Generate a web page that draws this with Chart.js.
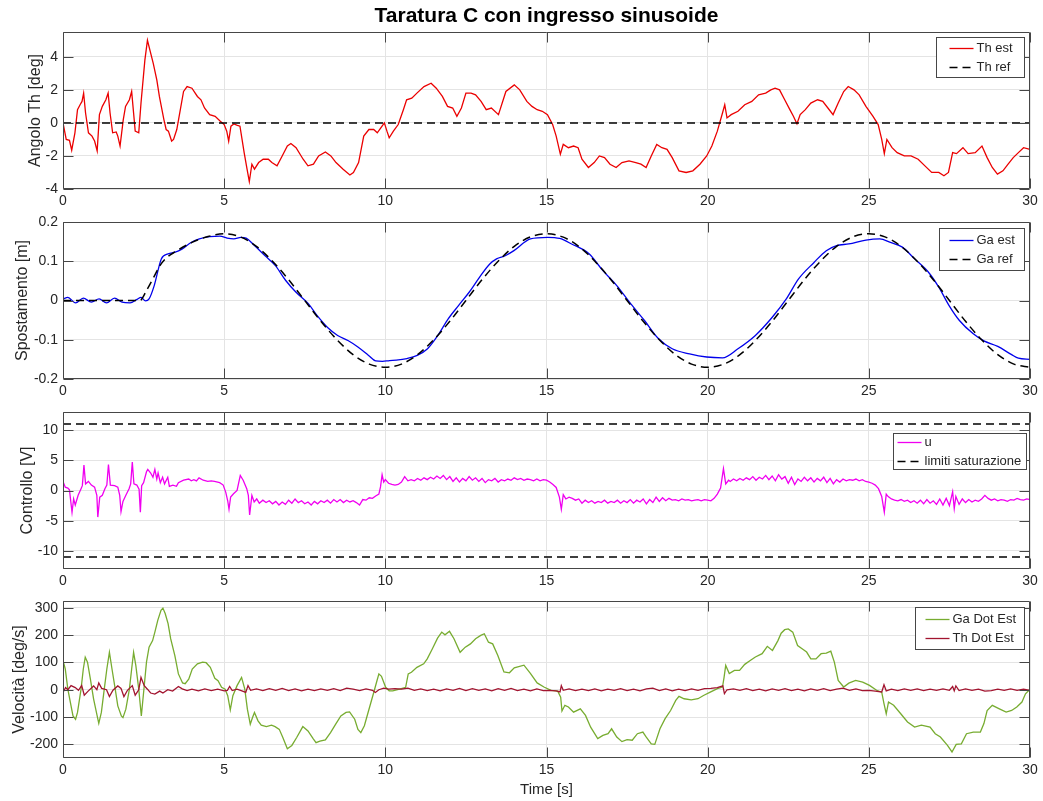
<!DOCTYPE html>
<html>
<head>
<meta charset="utf-8">
<title>Taratura C con ingresso sinusoide</title>
<script src="https://cdn.jsdelivr.net/npm/chart.js@4.4.1/dist/chart.umd.min.js"></script>
<style>
  html, body { margin: 0; padding: 0; background: #fff; }
  #figure { position: relative; width: 1043px; height: 801px; overflow: hidden; }
  #figure canvas { position: absolute; left: 0; }
</style>
</head>
<body>
<div id="figure">
  <canvas id="thChart" width="1043" height="214" style="top:0px"></canvas>
  <canvas id="gaChart" width="1043" height="196" style="top:208px"></canvas>
  <canvas id="uChart" width="1043" height="196" style="top:398px"></canvas>
  <canvas id="velChart" width="1043" height="214" style="top:587px"></canvas>
</div>
<script>
// Time axis and tick labels
const timeTicks = [0, 5, 10, 15, 20, 25, 30];
const thTicks = [-4, -2, 0, 2, 4];
const gaTicks = [-0.2, -0.1, 0, 0.1, 0.2];
const uTicks = [-10, -5, 0, 5, 10];
const velTicks = [-200, -100, 0, 100, 200, 300];

// Angle estimate [deg], pairs of [time s, value]
const thEst = [
  [0,0],[0.1,-1.0],[0.2,-1.05],[0.27,-1.65],[0.37,-0.6],[0.45,0.8],[0.53,1.1],[0.59,1.3],[0.64,1.8],
  [0.7,0.6],[0.79,-0.6],[0.9,-0.8],[0.98,-1.1],[1.06,-1.7],[1.13,0.5],[1.22,1.0],[1.33,1.4],[1.4,1.8],
  [1.46,0.6],[1.54,-0.6],[1.65,-0.55],[1.7,-0.8],[1.77,-1.4],[1.87,0.2],[1.94,1.0],[2.06,1.4],[2.13,1.9],
  [2.19,0.6],[2.24,-0.5],[2.35,-0.6],[2.42,1.2],[2.54,3.8],[2.62,5.0],[2.71,4.3],[2.8,3.6],[2.91,2.6],
  [2.99,1.6],[3.13,0.2],[3.2,-0.4],[3.27,-0.5],[3.37,-1.1],[3.43,-1.0],[3.53,-0.4],[3.64,0.8],[3.74,1.9],
  [3.85,2.2],[4.0,2.1],[4.17,1.6],[4.28,1.4],[4.39,0.9],[4.55,0.5],[4.72,0.4],[4.88,0.1],[5.0,-0.1],
  [5.08,-0.5],[5.14,-1.1],[5.21,-0.2],[5.3,-0.06],[5.41,-0.15],[5.49,-0.2],[5.62,-1.8],[5.71,-2.8],
  [5.78,-3.55],[5.86,-2.5],[5.94,-2.8],[6.07,-2.4],[6.21,-2.2],[6.37,-2.2],[6.48,-2.4],[6.64,-2.6],
  [6.8,-2.0],[6.96,-1.4],[7.07,-1.25],[7.23,-1.5],[7.45,-2.2],[7.6,-2.6],[7.77,-2.5],[7.93,-2.0],
  [8.14,-1.76],[8.31,-2.0],[8.47,-2.4],[8.69,-2.8],[8.9,-3.15],[9.01,-3.0],[9.17,-2.4],[9.33,-0.8],
  [9.49,-0.4],[9.64,-0.4],[9.75,-0.6],[9.86,-0.3],[9.97,0],[10.05,-0.5],[10.12,-0.9],[10.25,-0.5],
  [10.4,-0.1],[10.56,0.8],[10.66,1.4],[10.82,1.5],[10.98,1.8],[11.2,2.2],[11.42,2.4],[11.58,2.1],
  [11.77,1.6],[11.93,1.0],[12.09,0.9],[12.22,0.4],[12.36,0.9],[12.5,1.8],[12.66,1.8],[12.8,1.7],
  [12.97,1.3],[13.13,0.8],[13.29,0.9],[13.51,0.5],[13.74,1.9],[14.0,2.3],[14.17,2.0],[14.39,1.3],
  [14.55,1.0],[14.71,0.8],[14.87,0.7],[15.03,0.5],[15.19,-0.1],[15.3,-0.8],[15.43,-1.9],[15.52,-1.3],
  [15.68,-1.5],[15.84,-1.4],[15.98,-1.5],[16.1,-2.2],[16.3,-2.7],[16.48,-2.4],[16.64,-2.0],[16.8,-2.1],
  [16.97,-2.5],[17.16,-2.7],[17.34,-2.4],[17.56,-2.3],[17.77,-2.4],[17.93,-2.5],[18.09,-2.7],[18.25,-2.0],
  [18.42,-1.3],[18.58,-1.5],[18.74,-1.6],[18.9,-2.1],[19.11,-2.9],[19.33,-3.0],[19.54,-2.9],[19.76,-2.5],
  [19.97,-2.0],[20.13,-1.4],[20.3,-0.5],[20.46,0.6],[20.53,1.1],[20.6,0.3],[20.73,0.5],[20.94,0.7],
  [21.15,1.1],[21.37,1.3],[21.58,1.7],[21.8,1.8],[21.96,2.0],[22.09,2.1],[22.23,2.0],[22.39,1.4],
  [22.55,0.8],[22.66,0.4],[22.77,-0.05],[22.87,0.5],[23.03,0.8],[23.2,1.2],[23.41,1.4],[23.57,1.3],
  [23.73,0.9],[23.89,0.5],[24.05,1.2],[24.22,1.9],[24.36,2.2],[24.54,2.0],[24.7,1.7],[24.91,1.0],
  [25.13,0.4],[25.29,-0.1],[25.4,-1.0],[25.48,-1.86],[25.56,-1.0],[25.72,-1.5],[25.88,-1.8],[26.1,-2.0],
  [26.31,-2.0],[26.53,-2.2],[26.74,-2.6],[26.95,-3.0],[27.17,-3.0],[27.33,-3.2],[27.47,-3.0],[27.6,-1.8],
  [27.72,-1.86],[27.92,-1.5],[28.08,-1.86],[28.3,-1.8],[28.51,-1.4],[28.67,-2.1],[28.83,-2.7],[28.99,-3.1],
  [29.16,-2.9],[29.32,-2.5],[29.48,-2.1],[29.64,-1.8],[29.8,-1.5],[30,-1.6]
];
const thRef = [[0,0],[30,0]];

// Cart position [m]
const gaEst = [
  [0,0.004],[0.15,0.008],[0.39,-0.006],[0.63,0.006],[0.88,-0.004],[1.12,0.004],[1.35,-0.006],[1.6,0.006],
  [1.83,-0.004],[2.08,-0.006],[2.3,0.003],[2.42,0.008],[2.56,-0.001],[2.67,0.004],[2.83,0.038],[3.05,0.106],
  [3.26,0.119],[3.48,0.123],[3.69,0.131],[3.96,0.147],[4.23,0.157],[4.55,0.163],[4.87,0.164],[5.09,0.159],
  [5.3,0.157],[5.52,0.161],[5.68,0.159],[5.94,0.14],[6.27,0.114],[6.59,0.089],[6.91,0.051],[7.23,0.021],
  [7.61,-0.008],[7.88,-0.038],[8.2,-0.068],[8.52,-0.089],[8.84,-0.102],[9.16,-0.119],[9.48,-0.14],[9.7,-0.154],
  [9.91,-0.155],[10.13,-0.153],[10.34,-0.152],[10.67,-0.148],[10.99,-0.14],[11.31,-0.123],[11.63,-0.089],
  [11.95,-0.047],[12.27,-0.013],[12.6,0.021],[12.92,0.059],[13.24,0.093],[13.45,0.106],[13.72,0.114],
  [13.99,0.127],[14.5,0.157],[15.03,0.161],[15.41,0.158],[15.78,0.144],[16.32,0.119],[16.75,0.076],
  [17.18,0.038],[17.61,-0.008],[18.04,-0.051],[18.47,-0.097],[18.9,-0.123],[19.44,-0.136],[19.97,-0.144],
  [20.46,-0.146],[20.94,-0.123],[21.48,-0.089],[22.01,-0.042],[22.44,0.004],[22.82,0.055],[23.3,0.097],
  [23.68,0.127],[24.0,0.14],[24.38,0.144],[24.91,0.154],[25.34,0.157],[25.67,0.148],[26.04,0.136],
  [26.42,0.106],[26.85,0.072],[27.17,0.034],[27.49,-0.013],[27.81,-0.051],[28.24,-0.085],[28.57,-0.103],
  [29.0,-0.117],[29.43,-0.138],[29.64,-0.147],[30,-0.15]
];
const gaRef = [
  [0,0],[2.38,0],[2.6,0.027],[2.8,0.057],[3.0,0.088],[3.2,0.108],[3.5,0.125],[4,0.148],[4.5,0.163],
  [5,0.17],[5.5,0.162],[6,0.138],[6.5,0.1],
  [7,0.053],[7.5,0],[8,-0.053],[8.5,-0.1],[9,-0.138],[9.5,-0.162],[10,-0.17],[10.5,-0.162],[11,-0.138],
  [11.5,-0.1],[12,-0.053],[12.5,0],[13,0.053],[13.5,0.1],[14,0.138],[14.5,0.162],[15,0.17],[15.5,0.162],
  [16,0.138],[16.5,0.1],[17,0.053],[17.5,0],[18,-0.053],[18.5,-0.1],[19,-0.138],[19.5,-0.162],[20,-0.17],
  [20.5,-0.162],[21,-0.138],[21.5,-0.1],[22,-0.053],[22.5,0],[23,0.053],[23.5,0.1],[24,0.138],[24.5,0.162],
  [25,0.17],[25.5,0.162],[26,0.138],[26.5,0.1],[27,0.053],[27.5,0],[28,-0.053],[28.5,-0.1],[29,-0.138],
  [29.5,-0.162],[30,-0.17]
];

// Control voltage [V]
const uCtrl = [
  [0,1.5],[0.07,0.55],[0.15,0.4],[0.2,0.1],[0.28,-3.6],[0.33,-1.4],[0.38,-2.4],[0.47,-0.8],[0.56,0.3],
  [0.6,0.8],[0.65,4.2],[0.7,1.1],[0.79,1.5],[0.88,0.9],[0.98,0.55],[1.05,-0.8],[1.08,-4.4],[1.14,-1.1],
  [1.22,-0.8],[1.3,0.3],[1.36,0.9],[1.41,4.3],[1.47,0.9],[1.6,0.8],[1.7,0.55],[1.76,-0.8],[1.8,-3.5],
  [1.86,-1.8],[1.95,-0.8],[2.05,0.3],[2.1,1.1],[2.15,4.7],[2.2,1.1],[2.29,0.9],[2.36,0.2],[2.4,-3.6],
  [2.44,0.8],[2.5,1.3],[2.59,3.1],[2.63,3.5],[2.72,2.9],[2.79,2.2],[2.85,3.5],[2.91,1.9],[2.95,2.9],
  [3.02,1.3],[3.09,2.2],[3.15,1.1],[3.25,2.2],[3.3,0.7],[3.41,0.9],[3.52,0.7],[3.58,1.3],[3.74,1.7],
  [3.9,1.9],[3.98,1.6],[4.06,1.8],[4.14,1.6],[4.22,2.1],[4.35,1.7],[4.49,1.5],[4.6,1.6],[4.7,1.5],
  [4.86,1.3],[4.97,0.9],[5.05,-0.3],[5.11,-1.7],[5.15,-3.1],[5.2,-1.1],[5.29,-0.55],[5.4,0],[5.5,2.5],
  [5.59,1.7],[5.7,0.3],[5.75,-0.8],[5.79,-4.05],[5.86,-0.8],[5.93,-1.9],[6.01,-1.4],[6.09,-2.1],
  [6.2,-1.6],[6.3,-2.0],[6.4,-1.7],[6.5,-2.2],[6.6,-1.8],[6.7,-2.4],[6.8,-1.9],[6.9,-2.3],[7.0,-1.6],
  [7.1,-2.1],[7.2,-1.4],[7.3,-2.0],[7.4,-1.7],[7.5,-2.2],[7.6,-1.9],[7.7,-2.4],[7.8,-1.8],[7.9,-2.2],
  [8.0,-1.7],[8.1,-2.0],[8.2,-1.6],[8.3,-2.1],[8.4,-1.5],[8.5,-1.9],[8.6,-1.5],[8.7,-2.0],[8.8,-1.6],
  [8.9,-1.9],[9.0,-1.7],[9.1,-2.0],[9.2,-2.4],[9.3,-1.5],[9.4,-1.6],[9.5,-1.2],[9.6,-1.3],[9.7,-0.9],
  [9.8,-0.6],[9.85,0.6],[9.9,2.6],[9.95,1.4],[10.0,1.8],[10.1,1.2],[10.2,1.0],[10.3,0.9],[10.4,1.0],
  [10.5,1.4],[10.6,2.3],[10.7,1.6],[10.8,1.8],[10.9,1.6],[11.0,2.0],[11.1,1.7],[11.2,2.1],[11.3,1.8],
  [11.4,2.2],[11.5,1.9],[11.6,2.4],[11.7,2.0],[11.8,2.5],[11.9,1.8],[12.0,2.3],[12.1,1.5],[12.2,2.1],
  [12.3,1.4],[12.4,2.0],[12.5,1.6],[12.6,2.3],[12.7,1.7],[12.8,2.1],[12.9,1.5],[13.0,2.0],[13.1,1.3],
  [13.2,1.8],[13.3,1.6],[13.4,2.0],[13.5,1.4],[13.6,1.8],[13.7,1.6],[13.8,1.9],[13.9,1.7],[14.0,2.1],
  [14.1,1.8],[14.2,2.0],[14.3,1.7],[14.4,1.9],[14.5,1.8],[14.6,1.6],[14.7,1.9],[14.8,1.6],[14.9,1.8],
  [15.0,1.7],[15.1,1.4],[15.2,1.0],[15.3,0.5],[15.4,-1.1],[15.46,-3.1],[15.52,-0.7],[15.6,-1.4],
  [15.7,-1.1],[15.8,-1.3],[15.9,-1.6],[16.0,-1.4],[16.1,-2.1],[16.2,-1.6],[16.3,-2.0],[16.4,-1.7],
  [16.5,-2.1],[16.6,-1.8],[16.7,-2.0],[16.8,-1.6],[16.9,-2.1],[17.0,-1.8],[17.1,-2.0],[17.2,-1.6],
  [17.3,-2.1],[17.4,-1.7],[17.5,-2.0],[17.6,-1.5],[17.7,-2.1],[17.8,-1.6],[17.9,-1.9],[18.0,-1.4],
  [18.1,-2.2],[18.2,-1.5],[18.3,-2.0],[18.4,-1.1],[18.5,-1.8],[18.6,-1.2],[18.7,-1.7],[18.8,-1.3],
  [18.9,-1.6],[19.0,-1.5],[19.1,-1.7],[19.2,-1.4],[19.3,-1.6],[19.4,-1.5],[19.5,-1.7],[19.6,-1.6],
  [19.7,-1.5],[19.8,-1.7],[19.9,-1.5],[20.0,-1.6],[20.1,-1.7],[20.2,-1.3],[20.3,-0.6],[20.4,0.4],
  [20.49,3.6],[20.56,1.1],[20.65,1.7],[20.7,1.5],[20.8,1.9],[20.9,1.6],[21.0,2.0],[21.1,1.7],[21.2,2.1],
  [21.3,1.8],[21.4,2.3],[21.5,1.7],[21.6,2.2],[21.7,1.9],[21.8,2.5],[21.9,1.8],[22.0,2.4],[22.1,1.6],
  [22.2,2.6],[22.3,1.9],[22.4,2.3],[22.5,1.2],[22.6,2.2],[22.7,1.0],[22.8,1.9],[22.9,1.5],[23.0,2.2],
  [23.1,1.6],[23.2,2.1],[23.3,1.4],[23.4,2.0],[23.5,1.6],[23.6,2.2],[23.7,1.3],[23.8,2.0],[23.9,1.1],
  [24.0,1.8],[24.1,1.4],[24.2,1.9],[24.3,1.6],[24.4,1.8],[24.5,1.7],[24.6,1.9],[24.7,1.6],[24.8,1.8],
  [24.9,1.5],[25.0,1.4],[25.1,1.2],[25.2,0.9],[25.3,0.3],[25.4,-1.0],[25.48,-3.6],[25.54,-0.6],
  [25.6,-1.0],[25.7,-1.4],[25.8,-1.6],[25.9,-1.7],[26.0,-1.5],[26.1,-1.8],[26.2,-1.6],[26.3,-2.0],
  [26.4,-1.7],[26.5,-2.1],[26.6,-1.6],[26.7,-2.2],[26.8,-1.5],[26.9,-2.1],[27.0,-1.7],[27.1,-2.3],
  [27.2,-1.4],[27.3,-2.4],[27.4,-1.3],[27.5,-2.5],[27.6,-0.2],[27.65,-3.0],[27.7,-1.0],[27.8,-2.3],
  [27.9,-1.4],[28.0,-2.0],[28.1,-1.5],[28.2,-1.9],[28.3,-1.6],[28.4,-1.8],[28.5,-1.4],[28.6,-0.8],
  [28.7,-1.3],[28.8,-1.6],[28.9,-1.4],[29.0,-1.7],[29.1,-1.5],[29.2,-1.6],[29.3,-1.8],[29.4,-1.5],
  [29.5,-1.6],[29.6,-1.3],[29.7,-1.5],[29.8,-1.6],[29.9,-1.4],[30.0,-1.5]
];
const satUpper = [[0,11],[30,11]];
const satLower = [[0,-11],[30,-11]];

// Velocity estimates [deg/s]
const gaDotEst = [
  [0,107],[0.07,76],[0.15,2],[0.23,-47],[0.31,-96],[0.39,-108],[0.45,-83],[0.56,2],[0.63,76],[0.69,119],
  [0.76,101],[0.85,39],[0.95,-34],[1.06,-96],[1.11,-123],[1.19,-83],[1.28,2],[1.36,76],[1.44,137],
  [1.52,76],[1.62,2],[1.7,-59],[1.81,-96],[1.86,-102],[1.95,-71],[2.06,2],[2.13,76],[2.19,137],[2.26,88],
  [2.35,2],[2.43,-96],[2.51,2],[2.59,101],[2.67,156],[2.78,180],[2.85,211],[2.94,254],[3.04,291],[3.1,299],
  [3.17,279],[3.26,242],[3.34,187],[3.47,125],[3.58,58],[3.71,25],[3.79,22],[3.9,39],[4.01,76],[4.17,95],
  [4.33,101],[4.44,99],[4.57,82],[4.71,42],[4.81,33],[4.92,9],[5.03,2],[5.11,-22],[5.19,-74],[5.27,-22],
  [5.4,15],[5.54,45],[5.64,2],[5.72,-71],[5.81,-126],[5.88,-102],[5.94,-83],[6.05,-114],[6.15,-130],
  [6.31,-135],[6.47,-130],[6.58,-135],[6.71,-145],[6.82,-175],[6.96,-216],[7.1,-204],[7.25,-175],
  [7.44,-135],[7.6,-151],[7.76,-179],[7.85,-194],[7.97,-188],[8.14,-184],[8.3,-157],[8.46,-126],[8.62,-96],
  [8.78,-83],[8.89,-81],[9.05,-108],[9.15,-145],[9.24,-157],[9.35,-132],[9.48,-77],[9.64,-10],[9.74,33],
  [9.8,58],[9.88,49],[10.01,9],[10.12,-4],[10.23,-4],[10.44,2],[10.63,9],[10.71,58],[10.81,64],[10.98,82],
  [11.19,95],[11.3,113],[11.46,150],[11.62,189],[11.75,211],[11.85,201],[11.99,214],[12.13,187],
  [12.32,137],[12.48,156],[12.64,168],[12.8,187],[12.96,199],[13.07,205],[13.2,174],[13.33,168],
  [13.49,125],[13.68,65],[13.85,62],[14.0,80],[14.3,90],[14.5,60],[14.71,25],[14.92,10],[15.14,-2],
  [15.35,-5],[15.44,-27],[15.48,-78],[15.57,-57],[15.68,-63],[15.84,-82],[16.05,-70],[16.21,-94],
  [16.37,-137],[16.59,-179],[16.75,-167],[16.91,-161],[17.02,-143],[17.18,-173],[17.34,-190],[17.5,-183],
  [17.66,-185],[17.82,-161],[17.99,-155],[18.09,-173],[18.25,-198],[18.36,-200],[18.52,-143],[18.68,-106],
  [18.85,-76],[19.01,-39],[19.11,-24],[19.27,-33],[19.49,-37],[19.7,-33],[19.87,-21],[20.08,-9],[20.3,4],
  [20.46,10],[20.51,46],[20.56,89],[20.67,59],[20.83,71],[20.99,71],[21.15,93],[21.32,107],[21.48,120],
  [21.69,132],[21.85,159],[22.01,144],[22.18,180],[22.28,207],[22.39,220],[22.5,223],[22.64,211],
  [22.79,162],[22.93,150],[23.07,138],[23.2,113],[23.36,113],[23.52,132],[23.68,134],[23.82,141],
  [23.93,101],[24.05,34],[24.22,10],[24.38,24],[24.59,34],[24.81,28],[25.02,16],[25.24,-2],[25.4,-9],
  [25.47,-51],[25.54,-88],[25.61,-45],[25.77,-57],[25.99,-88],[26.2,-118],[26.42,-137],[26.63,-130],
  [26.9,-137],[27.06,-161],[27.22,-173],[27.44,-204],[27.58,-228],[27.71,-200],[27.87,-198],[28.03,-161],
  [28.24,-155],[28.46,-155],[28.57,-124],[28.67,-76],[28.83,-57],[29.05,-70],[29.26,-82],[29.43,-76],
  [29.59,-63],[29.75,-45],[29.86,-15],[30,2]
];
const thDotEst = [
  [0,-10],[0.08,8],[0.15,0],[0.25,15],[0.38,8],[0.48,-2],[0.58,15],[0.66,-20],[0.78,-5],[0.95,14],[1.05,0],
  [1.11,25],[1.2,5],[1.35,0],[1.44,-25],[1.55,-2],[1.7,14],[1.8,5],[1.89,-25],[2.0,-2],[2.15,15],[2.24,-20],
  [2.35,0],[2.42,45],[2.52,15],[2.62,2],[2.72,-12],[2.85,-16],[3.0,-5],[3.1,-12],[3.25,0],[3.4,-5],
  [3.58,12],[3.7,3],[3.85,-3],[4.0,2],[4.2,-4],[4.4,3],[4.6,-3],[4.8,2],[5.0,-4],[5.1,-2],[5.17,12],
  [5.25,-3],[5.4,2],[5.55,-4],[5.67,-10],[5.74,15],[5.82,-2],[6.0,3],[6.2,-3],[6.4,4],[6.6,-2],[6.8,5],
  [7.0,-3],[7.2,3],[7.4,-4],[7.6,2],[7.8,-3],[8.0,3],[8.2,-2],[8.4,4],[8.6,-3],[8.8,6],[9.0,2],[9.2,-3],
  [9.4,3],[9.6,-2],[9.69,-10],[9.8,0],[9.95,6],[10.1,2],[10.3,4],[10.5,2],[10.7,6],[10.9,-2],[11.1,3],
  [11.3,-3],[11.5,2],[11.7,-4],[11.9,3],[12.1,-2],[12.3,5],[12.5,-3],[12.7,4],[12.9,-2],[13.1,3],[13.3,-4],
  [13.5,4],[13.7,-2],[13.9,5],[14.1,-3],[14.3,2],[14.5,-4],[14.7,3],[14.9,-3],[15.1,-2],[15.3,-4],
  [15.42,-8],[15.46,15],[15.52,-2],[15.7,3],[15.9,-3],[16.1,2],[16.3,-3],[16.5,3],[16.7,-4],[16.9,2],
  [17.1,-2],[17.3,4],[17.5,-3],[17.7,2],[17.9,-4],[18.1,3],[18.3,6],[18.5,-3],[18.7,3],[18.9,-4],[19.1,2],
  [19.3,-3],[19.5,3],[19.7,-2],[19.9,4],[20.1,5],[20.3,8],[20.47,14],[20.52,-14],[20.6,0],[20.8,3],
  [21.0,-2],[21.2,4],[21.4,-3],[21.6,2],[21.8,-4],[22.0,3],[22.2,-2],[22.4,4],[22.6,-3],[22.8,2],[23.0,-4],
  [23.2,3],[23.4,-2],[23.6,4],[23.8,-3],[24.0,2],[24.2,6],[24.4,-2],[24.6,3],[24.8,-3],[25.0,-2],[25.2,-5],
  [25.4,-8],[25.47,18],[25.54,-4],[25.7,2],[25.9,-3],[26.1,3],[26.3,-2],[26.5,3],[26.7,-3],[26.9,2],
  [27.1,-2],[27.3,3],[27.5,-2],[27.6,12],[27.65,-4],[27.7,14],[27.8,-3],[28.0,3],[28.2,-2],[28.4,2],
  [28.6,-5],[28.8,-3],[29.0,2],[29.2,-2],[29.4,3],[29.6,-2],[29.8,2],[30,-2]
];

const fontFamily = "'Liberation Sans', Arial, Helvetica, sans-serif";
const axisColor = '#262626';
const boxColor = 'rgb(70,70,70)';
const gridColor = '#e4e4e4';

function toXY(pairs) {
  return pairs.map(p => ({ x: p[0], y: p[1] }));
}

function series(label, pairs, color, extra) {
  return Object.assign({
    label: label,
    data: toXY(pairs),
    borderColor: color,
    borderWidth: 1.3,
    pointRadius: 0,
    fill: false,
    tension: 0
  }, extra || {});
}

function dashed(label, pairs, extra) {
  return series(label, pairs, '#000000', Object.assign({ borderWidth: 1.5, borderDash: [8, 5] }, extra || {}));
}

// axes box with inward ticks on all four sides, plus a boxed legend in the top right
const matlabBox = {
  id: 'matlabBox',
  afterDraw(chart, args, opts) {
    const { ctx, chartArea: a, scales } = chart;
    const L = Math.round(a.left) + 0.5, R = Math.round(a.right) - 0.5;
    const T = Math.round(a.top) + 0.5, B = Math.round(a.bottom) - 0.5;
    const tl = 10;
    ctx.save();
    ctx.strokeStyle = boxColor;
    ctx.lineWidth = 1;
    ctx.setLineDash([]);
    ctx.beginPath();
    ctx.rect(L, T, R - L, B - T);
    scales.x.ticks.forEach(t => {
      const p = Math.round(scales.x.getPixelForValue(t.value)) + 0.5;
      ctx.moveTo(p, B); ctx.lineTo(p, B - tl);
      ctx.moveTo(p, T); ctx.lineTo(p, T + tl);
    });
    scales.y.ticks.forEach(t => {
      const p = Math.round(scales.y.getPixelForValue(t.value)) + 0.5;
      ctx.moveTo(L, p); ctx.lineTo(L + tl, p);
      ctx.moveTo(R, p); ctx.lineTo(R - tl, p);
    });
    ctx.stroke();

    // legend
    const items = chart.data.datasets.filter(d => d.label && !d.noLegend);
    ctx.font = '13px ' + fontFamily;
    const textW = Math.max(...items.map(d => ctx.measureText(d.label).width));
    const sample = 24, gap = 3;
    const w = opts.padL + sample + gap + textW + opts.padR;
    const right = Math.round(a.right) - opts.right + 0.5;
    const left = Math.round(right - w) + 0.5;
    const top = Math.round(a.top) + opts.top + 0.5;
    const h = opts.height;
    ctx.fillStyle = '#ffffff';
    ctx.fillRect(left, top, right - left, h);
    ctx.strokeStyle = boxColor;
    ctx.strokeRect(left, top, right - left, h);
    const rowGap = 19;
    const firstRow = top + (h - rowGap) / 2;
    items.forEach((d, i) => {
      const y = Math.round(firstRow + i * rowGap) + 0.5;
      const x0 = left + opts.padL;
      ctx.beginPath();
      ctx.strokeStyle = d.borderColor;
      ctx.lineWidth = d.borderWidth;
      ctx.setLineDash(d.borderDash || []);
      ctx.moveTo(x0, y);
      ctx.lineTo(x0 + sample, y);
      ctx.stroke();
      ctx.setLineDash([]);
      ctx.fillStyle = axisColor;
      ctx.textAlign = 'left';
      ctx.textBaseline = 'middle';
      ctx.fillText(d.label, x0 + sample + gap, y);
    });
    ctx.restore();
  }
};

function makePanel(id, datasets, y, o) {
  return new Chart(document.getElementById(id), {
    type: 'line',
    data: { datasets: datasets },
    plugins: [matlabBox],
    options: {
      responsive: false,
      animation: false,
      devicePixelRatio: 1,
      events: [],
      layout: { padding: { top: o.padTop, right: 13, left: 0, bottom: 0 } },
      plugins: {
        legend: { display: false },
        tooltip: { enabled: false },
        title: o.title ? {
          display: true,
          text: o.title,
          color: '#000000',
          fullSize: false,
          font: { family: fontFamily, size: 21, weight: 'bold' },
          padding: { top: 3.4, bottom: 3.4 }
        } : { display: false },
        matlabBox: o.legend
      },
      scales: {
        x: {
          type: 'linear',
          min: 0,
          max: 30,
          afterBuildTicks: s => { s.ticks = timeTicks.map(v => ({ value: v })); },
          afterFit: s => { s.height = o.xHeight; },
          grid: { color: gridColor, lineWidth: 1, drawTicks: false },
          border: { display: false },
          ticks: {
            autoSkip: false, maxRotation: 0, padding: 4, color: axisColor,
            font: { family: fontFamily, size: 14 },
            callback: v => String(v)
          },
          title: o.xTitle ? {
            display: true, text: o.xTitle, color: axisColor,
            font: { family: fontFamily, size: 15 },
            padding: { top: 0, bottom: 2 }
          } : { display: false }
        },
        y: {
          type: 'linear',
          min: y.min,
          max: y.max,
          afterBuildTicks: s => { s.ticks = y.ticks.map(v => ({ value: v })); },
          afterFit: s => { s.width = 63; },
          grid: { color: gridColor, lineWidth: 1, drawTicks: false },
          border: { display: false },
          ticks: {
            autoSkip: false, padding: 5, color: axisColor,
            font: { family: fontFamily, size: 14 },
            callback: v => String(v)
          },
          title: {
            display: true, text: y.title, color: axisColor,
            font: { family: fontFamily, size: 16 },
            padding: { top: o.yTitlePad, bottom: 0 }
          }
        }
      }
    }
  });
}

makePanel('thChart', [
  series('Th est', thEst, 'rgb(235,0,0)', { order: 1 }),
  dashed('Th ref', thRef, { order: 0 })
], { min: -4, max: 5.5, ticks: thTicks, title: 'Angolo Th [deg]' },
{ padTop: 0, xHeight: 25, yTitlePad: 26.4, title: 'Taratura C con ingresso sinusoide',
  legend: { top: 5, height: 40, padL: 13, padR: 12, right: 6 } });

makePanel('gaChart', [
  series('Ga est', gaEst, 'rgb(0,0,235)', { order: 1, cubicInterpolationMode: 'monotone' }),
  dashed('Ga ref', gaRef, { order: 0, cubicInterpolationMode: 'monotone' })
], { min: -0.2, max: 0.2, ticks: gaTicks, title: 'Spostamento [m]' },
{ padTop: 14, xHeight: 25, yTitlePad: 13.4,
  legend: { top: 6, height: 42, padL: 10, padR: 10, right: 6 } });

makePanel('uChart', [
  series('u', uCtrl, 'rgb(240,0,240)', { order: 2 }),
  dashed('limiti saturazione', satUpper, { order: 0 }),
  dashed('limiti saturazione', satLower, { order: 1, noLegend: true })
], { min: -13, max: 13, ticks: uTicks, title: 'Controllo [V]' },
{ padTop: 14, xHeight: 25, yTitlePad: 18.4,
  legend: { top: 21, height: 36, padL: 4, padR: 6, right: 4 } });

makePanel('velChart', [
  series('Ga Dot Est', gaDotEst, '#77AC30', { order: 1 }),
  series('Th Dot Est', thDotEst, '#A2142F', { order: 0 })
], { min: -250, max: 325, ticks: velTicks, title: 'Velocità [deg/s]' },
{ padTop: 14, xHeight: 43, yTitlePad: 10.4, xTitle: 'Time [s]',
  legend: { top: 6, height: 42, padL: 10, padR: 9, right: 6 } });
</script>
</body>
</html>
